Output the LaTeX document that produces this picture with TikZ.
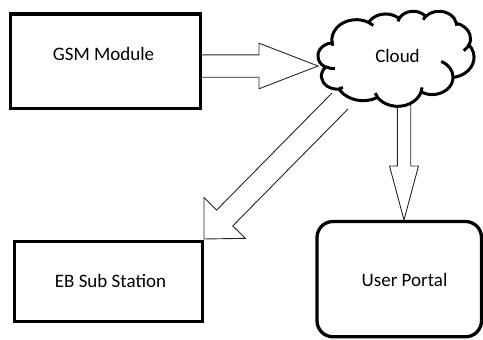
\documentclass[tikz,border=0pt]{standalone}
\usepackage{fontspec}
\setmainfont{Carlito}
\usetikzlibrary{calc}
\tikzset{
  box/.style={draw=black, line width=3.3pt, inner sep=0pt, outer sep=0pt},
  lbl/.style={font=\fontsize{19}{23}\selectfont, anchor=base, inner sep=0pt, text=black},
  barrow/.style={draw=black!85, line width=0.9pt, line join=miter},
  cloudline/.style={draw=black, line width=3pt, line join=round},
  carc/.style n args={4}{insert path={arc[x radius=#1, y radius=#2,
      start angle={atan2(#1*sin(#3),#2*cos(#3))},
      delta angle={mod(atan2(#1*sin(#3+#4),#2*cos(#3+#4))-atan2(#1*sin(#3),#2*cos(#3))+720,360)}]}}
}
% block arrow: tail, tip, shaft half width, head half width, head length
\newcommand{\blockarrow}[5]{%
  \coordinate (ba-h) at ($(#2)!#5!(#1)$);
  \draw[barrow] ($(#1)!#3!90:(#2)$) -- ($(ba-h)!#3!90:(#2)$) -- ($(ba-h)!#4!90:(#2)$)
     -- (#2) -- ($(ba-h)!#4!-90:(#2)$) -- ($(ba-h)!#3!-90:(#2)$) -- ($(#1)!#3!-90:(#2)$);
}
\begin{document}
\begin{tikzpicture}[x=1pt,y=-1pt]
\useasboundingbox (0,0) rectangle (483,340);

% boxes
\node[box, minimum width=190pt, minimum height=94.3pt] (gsm) at (105.3,61.2) {};
\node[box, minimum width=187.8pt, minimum height=79.6pt] (eb) at (108.5,281.5) {};
\node[box, rounded corners=16pt, minimum width=164.5pt, minimum height=115.3pt] (portal) at (399.25,279.15) {};
\node[inner sep=0pt, outer sep=0pt, minimum width=156pt, minimum height=95pt] (cloud) at (396,58.5) {};

% named end points of the block arrows
\coordinate (a1t) at ($(gsm.east)+(1.7,4.8)$);
\coordinate (a1h) at ($(cloud.west)+(0,7.5)$);
\coordinate (a2t) at ($(cloud.center)+(-56,42.5)$);
\coordinate (a2h) at ($(eb.north east)+(1.6,-2.7)$);
\coordinate (a3t) at ($(cloud.south)+(8,-6)$);
\coordinate (a3h) at ($(portal.north)+(4.75,-1.5)$);

% block arrows
\blockarrow{a1t}{a1h}{11.2pt}{22.8pt}{59pt}
\blockarrow{a2t}{a2h}{11.3pt}{29pt}{29.5pt}
\blockarrow{a3t}{a3h}{6.7pt}{14.5pt}{54pt}

% cloud outline
\begin{scope}[shift={(cloud.north west)}, x=0.36111pt, y=-0.21991pt]
  \draw[cloudline, fill=white] (39,143.70)
    [carc={67.53}{91.90}{-190.4875}{123.7805}]
    [carc={53.33}{72.67}{-144.1024}{89.9452}]
    [carc={43.65}{59.45}{-145.8079}{99.7230}]
    [carc={48.57}{65.95}{-130.9861}{117.2417}]
    [carc={53.33}{72.73}{-78.7089}{109.0269}]
    [carc={67.75}{92.20}{-46.2673}{130.2690}]
    [carc={57.85}{78.67}{0.6250}{114.0333}]
    [carc={67.52}{92.15}{22.4516}{115.1726}]
    [carc={77.20}{105.43}{66.2426}{75.7110}]
    [carc={43.60}{59.18}{-274.9421}{146.7356}]
    [carc={43.45}{59.45}{-246.8285}{152.5189}]
    -- cycle;
  \draw[cloudline]
    (46.93,261.77) [carc={43.45}{59.45}{86.7420}{26.4295}]
    (69.28,348.99) [carc={43.60}{59.18}{73.6105}{11.4475}]
    (164.78,390.90) [carc={67.52}{92.15}{137.6242}{14.0811}]
    (288.27,347.51) [carc={67.52}{92.15}{6.4533}{15.9984}]
    (341.29,229.54) [carc={57.85}{78.67}{-70.2924}{70.9174}]
    (417.98,153.54) [carc={53.33}{72.73}{30.3180}{27.7515}]
    (383.24,54.26) [carc={48.57}{65.95}{-13.7443}{14.8589}]
    (290.78,39.52) [carc={48.57}{65.95}{-149.1815}{18.1954}]
    (221.41,47.20) [carc={43.65}{59.45}{-163.4943}{17.6864}]
    (140.00,51.92) [carc={67.53}{91.90}{-66.7070}{12.3194}]
    (41.27,157.89) [carc={67.53}{91.90}{157.6544}{11.8582}];
\end{scope}

% labels
\node[lbl] (gsmlabel) at (103.5,60.5) {GSM Module};
\node[lbl] (eblabel) at (110.5,287.3) {EB Sub Station};
\node[lbl] (cloudlabel) at (397.5,62.3) {Cloud};
\node[lbl] (portallabel) at (404.5,286.7) {User Portal};
\end{tikzpicture}
\end{document}
